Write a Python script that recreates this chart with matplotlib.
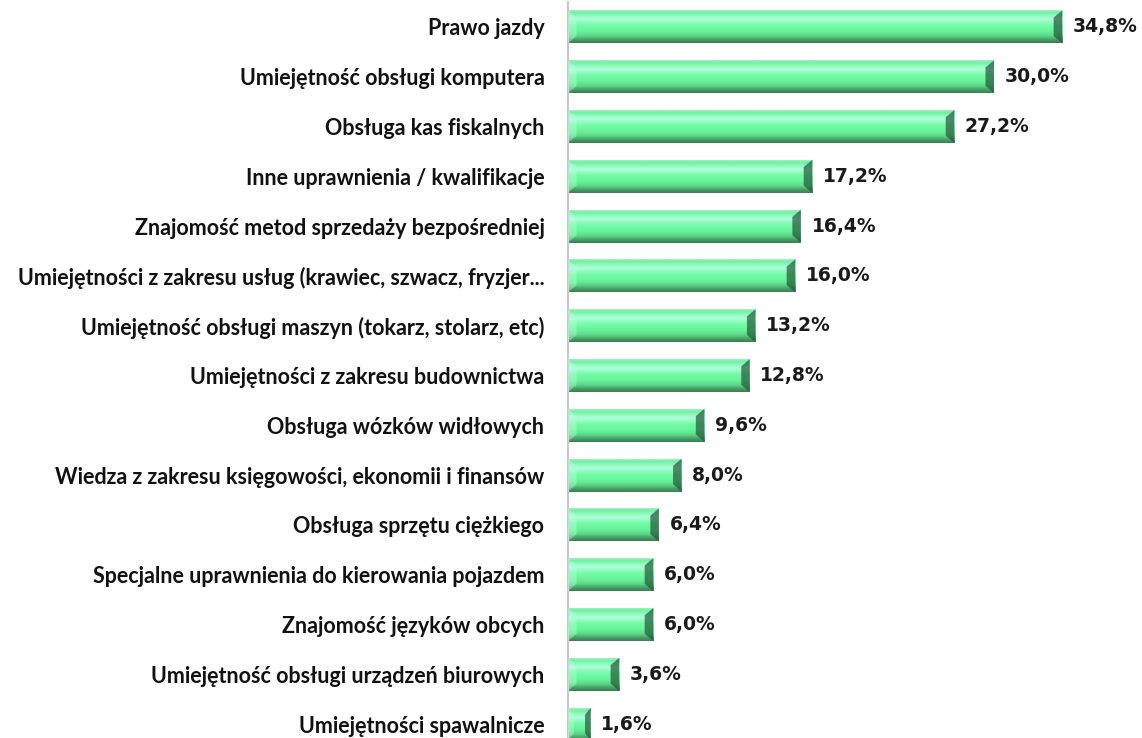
import numpy as np
import matplotlib
matplotlib.use("Agg")
import matplotlib.pyplot as plt
from matplotlib.colors import LinearSegmentedColormap

# ── DATA ──────────────────────────────────────────────────────────────────────
categories = [
    "Prawo jazdy",
    "Umiejętność obsługi komputera",
    "Obsługa kas fiskalnych",
    "Inne uprawnienia / kwalifikacje",
    "Znajomość metod sprzedaży bezpośredniej",
    "Umiejętności z zakresu usług (krawiec, szwacz, fryzjer...",
    "Umiejętność obsługi maszyn (tokarz, stolarz, etc)",
    "Umiejętności z zakresu budownictwa",
    "Obsługa wózków widłowych",
    "Wiedza z zakresu księgowości, ekonomii i finansów",
    "Obsługa sprzętu ciężkiego",
    "Specjalne uprawnienia do kierowania pojazdem",
    "Znajomość języków obcych",
    "Umiejętność obsługi urządzeń biurowych",
    "Umiejętności spawalnicze",
]
values = [34.8, 30.0, 27.2, 17.2, 16.4, 16.0, 13.2, 12.8, 9.6, 8.0, 6.4, 6.0, 6.0, 3.6, 1.6]
value_labels = ["34,8%", "30,0%", "27,2%", "17,2%", "16,4%", "16,0%", "13,2%", "12,8%",
                "9,6%", "8,0%", "6,4%", "6,0%", "6,0%", "3,6%", "1,6%"]

# ── STYLE ─────────────────────────────────────────────────────────────────────
BAR_H = 0.66
grad = LinearSegmentedColormap.from_list(
    "bevel",
    [(0.0, "#3a7f52"), (0.1, "#48a066"), (0.2, "#5bd486"), (0.35, "#68f29a"),
     (0.55, "#74fba6"), (0.72, "#b0ffda"), (0.85, "#8cf9bc"), (0.93, "#6ff0a0"),
     (1.0, "#a0f0c0")],
)
gradient = np.linspace(0, 1, 64).reshape(-1, 1)

fig = plt.figure(figsize=(11.42, 7.38), dpi=100)
ax = fig.add_axes([568 / 1142, -11 / 738, 1 - 568 / 1142, 1 - 2 / 738 + 11 / 738])

y = np.arange(len(values))
bars = ax.barh(y, values, height=BAR_H, color="none", edgecolor="none")

for b, v, lab in zip(bars, values, value_labels):
    x0, y0 = b.get_x(), b.get_y()
    h = b.get_height()
    ax.imshow(gradient, extent=(x0, x0 + v, y0 + h, y0), origin="lower",
              cmap=grad, aspect="auto", zorder=2, interpolation="bilinear")
    # bevelled ends: dark right cap, light left cap
    cap = min(0.6, v * 0.25)
    ax.fill([v - cap, v, v, v - cap], [y0 + h * 0.22, y0, y0 + h, y0 + h * 0.78],
            color="#24573a", alpha=0.7, zorder=3, lw=0)
    ax.fill([0, cap, cap, 0], [y0, y0 + h * 0.22, y0 + h * 0.78, y0 + h],
            color="#c0ffe0", alpha=0.4, zorder=3, lw=0)
    ax.text(v + 0.75, y0 + h / 2, lab, va="center", ha="left",
            fontsize=13.5, fontweight="bold", color="#1a1a1a",
            family="DejaVu Sans")

ax.set_xlim(0, (1142 - 568) / 14.2)
ax.set_ylim(len(values) - 0.5, -0.5)
ax.set_yticks(y)
ax.set_yticklabels(categories, fontsize=15.5, fontweight="bold", family="Lato",
                   color="#111111")
ax.tick_params(axis="y", length=0, pad=17)
ax.set_xticks([])
for s in ["top", "right", "bottom"]:
    ax.spines[s].set_visible(False)
ax.spines["left"].set_color("#c8c8c8")
ax.spines["left"].set_linewidth(1.5)

fig.savefig("out.png", dpi=100)
